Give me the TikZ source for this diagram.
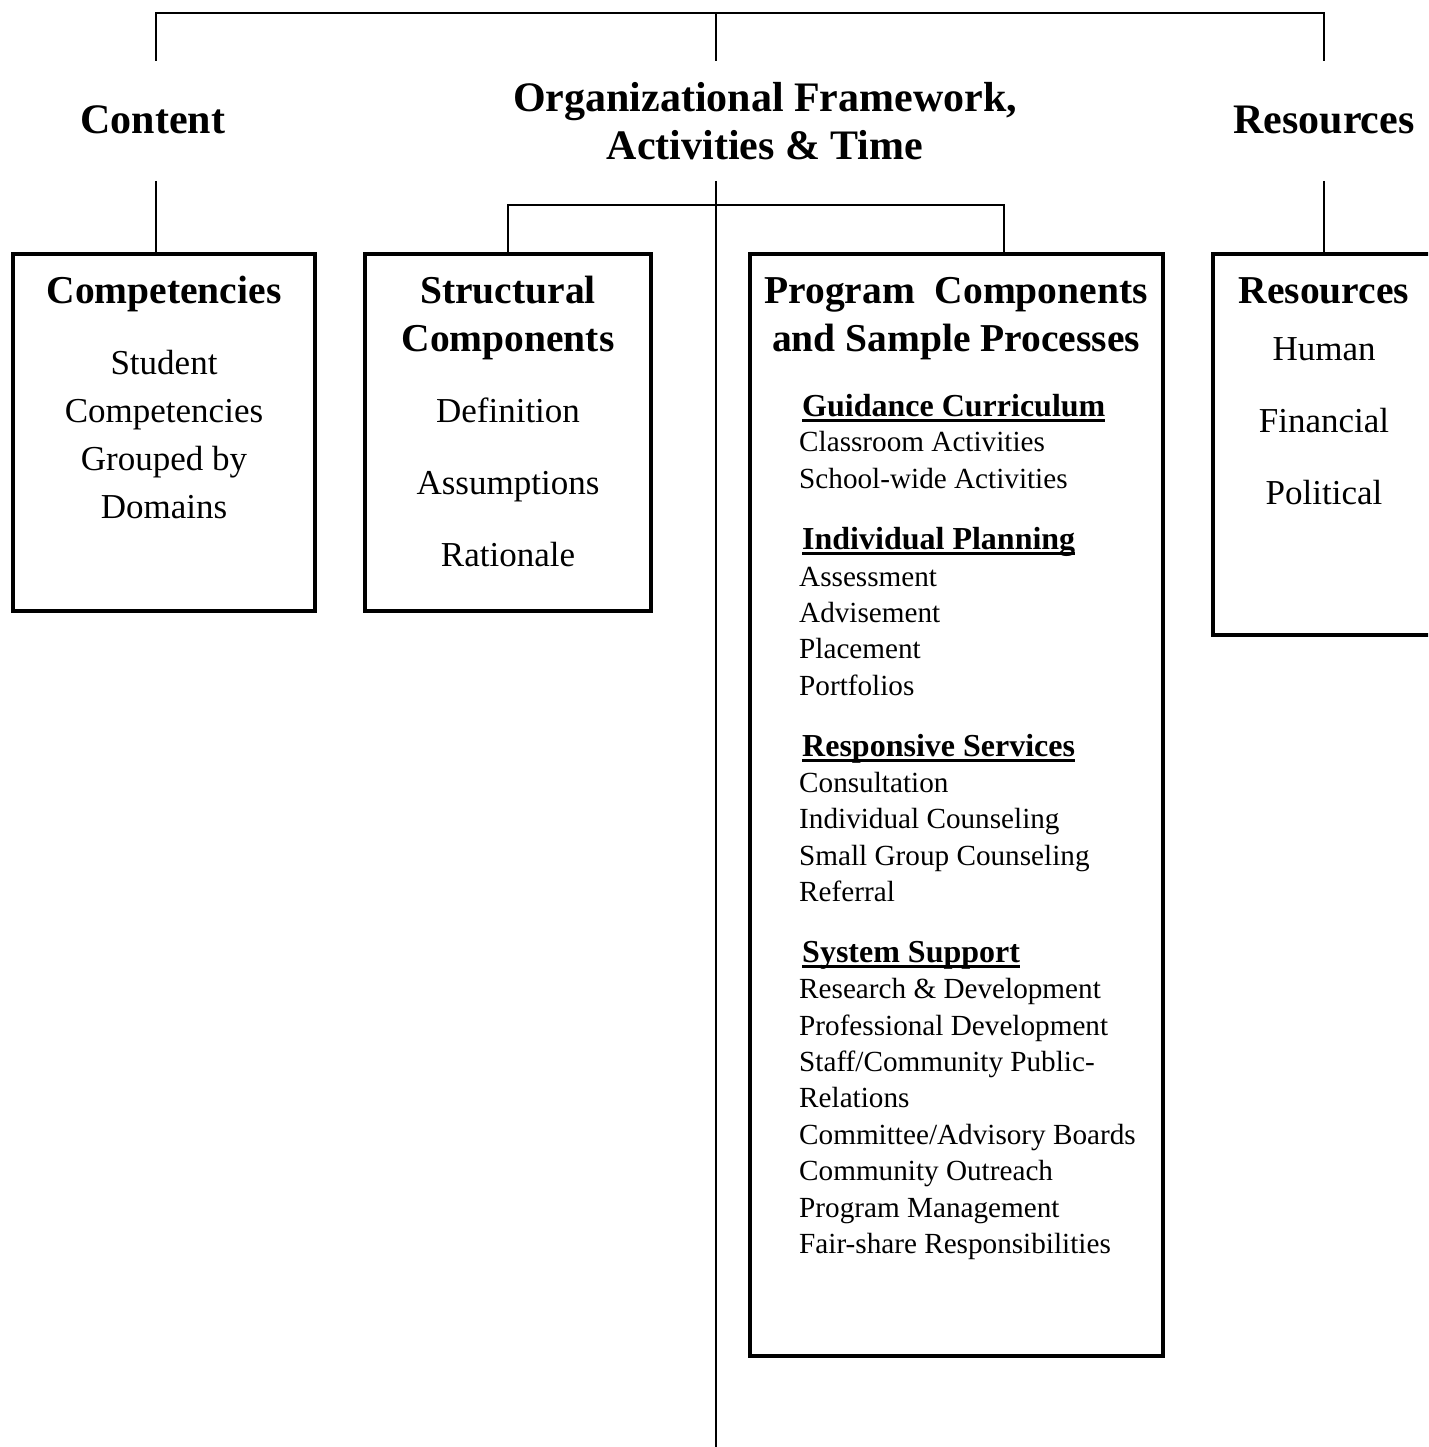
\documentclass[tikz,border=0pt]{standalone}
\usepackage{fontspec}
\setmainfont{Liberation Serif}
\newcommand\ulin[1]{\setbox0\hbox{#1}\rlap{\rule[-6pt]{\wd0}{2.6pt}}\box0}
\tikzset{
  conn/.style={line width=1.8pt},
  box/.style={draw, line width=3.6pt, anchor=north west, inner sep=0pt},
  hdr/.style={font=\fontsize{42}{48}\selectfont\bfseries, anchor=base, inner sep=0pt},
  ttl/.style={font=\fontsize{39.5}{46}\selectfont\bfseries, anchor=base, inner sep=0pt},
  body/.style={font=\fontsize{35}{40}\selectfont, anchor=base, inner sep=0pt},
  sub/.style={font=\fontsize{32}{36}\selectfont\bfseries, anchor=base west, inner sep=0pt},
  item/.style={font=\fontsize{29.2}{34}\selectfont, anchor=base west, inner sep=0pt}
}
\begin{document}
\begin{tikzpicture}[x=1pt,y=-1pt]
\useasboundingbox (0,0) rectangle (1428,1447);
\clip (0,0) rectangle (1428,1447);
% boxes
\node[box, minimum width=302.4pt, minimum height=357.4pt] (comp) at (11,252) {};
\node[box, minimum width=286.4pt, minimum height=357.4pt] (struct) at (363,252) {};
\node[box, minimum width=413.4pt, minimum height=1102.4pt] (prog) at (748,252) {};
\node[box, minimum width=240pt, minimum height=381.4pt] (res) at (1211,252) {};
% headers
\node[hdr] (hcontent) at (153,134) {Content};
\node[hdr] (horg1) at (765,112) {Organizational Framework,};
\node[hdr] (horg2) at (765,160) {Activities \& Time};
\node[hdr] (hres) at (1324,134) {Resources};
% connectors
\coordinate (bar) at (716,13);
\coordinate (cA) at (156,61);
\coordinate (rA) at (1324,61);
\coordinate (mA) at (716,61);
\coordinate (cB) at (156,181);
\coordinate (rB) at (1324,181);
\coordinate (mB) at (716,181);
\coordinate (mEnd) at (716,1447);
\coordinate (sB) at (508,205);
\coordinate (pB) at (1004,205);
\draw[conn] (cA) -- (cA |- bar) -- (rA |- bar) -- (rA);
\draw[conn] (bar) -- (mA);
\draw[conn] (cB) -- (cB |- comp.north);
\draw[conn] (rB) -- (rB |- res.north);
\draw[conn] (mB) -- (mEnd);
\draw[conn] (sB |- struct.north) -- (sB) -- (pB) -- (pB |- prog.north);
% competencies
\node[ttl] (t1) at (164,303) {Competencies};
\node[body] (c1) at (164,374) {Student};
\node[body] (c2) at (164,422) {Competencies};
\node[body] (c3) at (164,470) {Grouped by};
\node[body] (c4) at (164,518) {Domains};
% structural
\node[ttl] (t2a) at (508,303) {Structural};
\node[ttl] (t2b) at (508,351) {Components};
\node[body] (s1) at (508,422) {Definition};
\node[body] (s2) at (508,494) {Assumptions};
\node[body] (s3) at (508,566) {Rationale};
% resources
\node[ttl] (t4) at (1324,303) {Resources};
\node[body] (r1) at (1324,360) {Human};
\node[body] (r2) at (1324,432) {Financial};
\node[body] (r3) at (1324,504) {Political};
% program
\node[ttl] (t3a) at (956,303) {Program\ \ Components};
\node[ttl] (t3b) at (956,351) {and Sample Processes};
\node[sub] (g0) at (802,416) {\ulin{Guidance Curriculum}};
\node[item] (g1) at (799,451) {Classroom Activities};
\node[item] (g2) at (799,488) {School-wide Activities};
\node[sub] (i0) at (802,549) {\ulin{Individual Planning}};
\node[item] (i1) at (799,586) {Assessment};
\node[item] (i2) at (799,622) {Advisement};
\node[item] (i3) at (799,658) {Placement};
\node[item] (i4) at (799,695) {Portfolios};
\node[sub] (v0) at (802,756) {\ulin{Responsive Services}};
\node[item] (v1) at (799,792) {Consultation};
\node[item] (v2) at (799,828) {Individual Counseling};
\node[item] (v3) at (799,865) {Small Group Counseling};
\node[item] (v4) at (799,901) {Referral};
\node[sub] (y0) at (802,962) {\ulin{System Support}};
\node[item] (y1) at (799,998) {Research \& Development};
\node[item] (y2) at (799,1035) {Professional Development};
\node[item] (y3) at (799,1071) {Staff/Community Public-};
\node[item] (y4) at (799,1107) {Relations};
\node[item] (y5) at (799,1144) {Committee/Advisory Boards};
\node[item] (y6) at (799,1180) {Community Outreach};
\node[item] (y7) at (799,1217) {Program Management};
\node[item] (y8) at (799,1253) {Fair-share Responsibilities};
\end{tikzpicture}
\end{document}
